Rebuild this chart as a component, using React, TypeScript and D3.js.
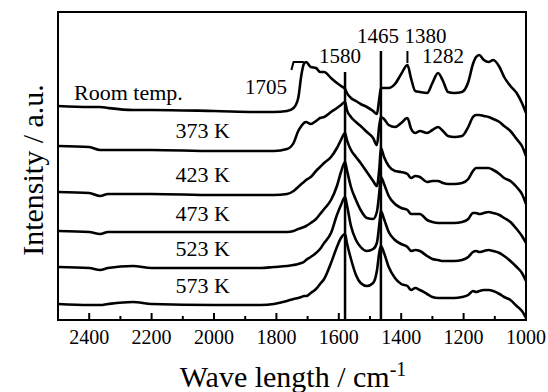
import React from "react";
import * as d3 from "d3";

// Wavenumber grid (cm-1)
const wavenumber = [2500, 2400, 2365, 2340, 2260, 2200, 2000, 1850, 1808, 1766, 1745, 1730, 1720, 1712, 1705, 1690, 1673, 1660, 1647, 1625, 1606, 1593, 1580, 1574, 1561, 1545, 1530, 1510, 1490, 1478, 1470, 1465, 1455, 1440, 1420, 1400, 1380, 1368, 1355, 1340, 1317, 1300, 1282, 1266, 1250, 1230, 1205, 1185, 1170, 1160, 1150, 1135, 1120, 1105, 1085, 1070, 1050, 1030, 1013, 1000];

// Offset intensities (a.u.)
const roomTemp = [214, 213, 213, 212, 210, 210, 209, 208, 208, 209, 212, 222, 245, 256, 258, 253, 252, 248, 248, 242, 237, 234, 231, 227, 222, 219, 216, 213, 209, 206, 222, 232, 232, 232, 236, 246, 255, 241, 229, 228, 227, 237, 247, 239, 228, 227, 228, 238, 256, 263, 265, 260, 258, 260, 253, 243, 234, 227, 217, 207];
const k373 = [174, 173, 170, 170, 170, 170, 169, 169, 169, 171, 177, 189, 194, 197, 198, 196, 199, 202, 203, 208, 212, 215, 218, 210, 203, 198, 194, 188, 182, 175, 195, 203, 201, 195, 193, 197, 202, 191, 187, 189, 187, 190, 193, 189, 184, 183, 184, 193, 203, 205, 205, 204, 203, 201, 198, 194, 189, 181, 174, 164];
const k423 = [128, 127, 124, 126, 126, 126, 125, 125, 125, 126, 129, 133, 136, 138, 140, 143, 149, 153, 157, 163, 172, 180, 187, 180, 170, 163, 157, 148, 139, 134, 152, 172, 163, 154, 149, 148, 146, 142, 144, 143, 138, 139, 139, 137, 136, 136, 137, 141, 149, 152, 152, 152, 152, 150, 146, 142, 139, 133, 126, 116];
const k473 = [89, 88, 86, 88, 88, 88, 88, 88, 88, 88, 89, 91, 92, 93, 94, 97, 101, 106, 111, 120, 134, 148, 158, 150, 133, 120, 110, 102, 101, 108, 128, 143, 136, 124, 116, 112, 110, 106, 106, 106, 100, 98, 97, 97, 97, 97, 98, 101, 107, 107, 106, 107, 108, 107, 105, 102, 98, 91, 84, 77];
const k523 = [53, 52, 50, 52, 54, 52, 52, 52, 53, 54, 55, 56, 57, 58, 60, 63, 67, 71, 77, 87, 105, 115, 123, 115, 94, 80, 73, 69, 71, 77, 96, 109, 101, 88, 80, 76, 73, 69, 70, 69, 64, 61, 60, 59, 59, 59, 60, 63, 68, 69, 68, 69, 70, 69, 67, 64, 59, 53, 47, 39];
const k573 = [16, 15, 15, 16, 18, 16, 15, 15, 16, 19, 21, 22, 23, 24, 24, 27, 31, 36, 41, 57, 73, 82, 86, 77, 61, 45, 37, 34, 37, 49, 68, 74, 67, 53, 42, 36, 34, 30, 32, 30, 26, 23, 22, 22, 22, 22, 23, 25, 29, 28, 29, 30, 30, 29, 26, 23, 20, 14, 9, 2];

const seriesValues = [roomTemp, k373, k423, k473, k523, k573];
const seriesLabels = ["Room temp.", "373 K", "423 K", "473 K", "523 K", "573 K"];
const majorTicks = [2400, 2200, 2000, 1800, 1600, 1400, 1200, 1000];
const minorTicks = [2300, 2100, 1900, 1700, 1500, 1300, 1100];

const W = 548, H = 392;
const L = 58, R = 526, T = 12, B = 320;
const FONT = "'Liberation Serif', 'Times New Roman', serif";

export default function App() {
  const x = d3.scaleLinear().domain([2500, 1000]).range([L, R]);
  const y = d3.scaleLinear().domain([0, 308]).range([B, T]);
  const line = d3
    .line<number>()
    .x((_, i) => x(wavenumber[i]))
    .y((v) => y(v))
    .curve(d3.curveMonotoneX);

  const labelPos = [
    { x: 74, y: 100, anchor: "start" },
    { x: 230, y: 138, anchor: "end" },
    { x: 230, y: 182, anchor: "end" },
    { x: 230, y: 221, anchor: "end" },
    { x: 230, y: 256, anchor: "end" },
    { x: 230, y: 293, anchor: "end" },
  ];

  return (
    <svg width={W} height={H} style={{ position: "absolute", left: 0, top: 0, background: "#fff" }} fontFamily={FONT}>
      <rect x={0} y={0} width={W} height={H} fill="#fff" />
      {/* annotation lines */}
      <line x1={x(1580)} x2={x(1580)} y1={y(248)} y2={B} stroke="#000" strokeWidth={2.5} />
      <line x1={x(1465)} x2={x(1465)} y1={y(269)} y2={B} stroke="#000" strokeWidth={2.5} />
      <line x1={x(1380)} x2={x(1380)} y1={y(269)} y2={y(257)} stroke="#000" strokeWidth={2} />
      {/* curves */}
      {seriesValues.map((vals, i) => (
        <path key={i} d={line(vals) || ""} fill="none" stroke="#000" strokeWidth={2.6} strokeLinejoin="round" />
      ))}
      {/* arrow near 1705 */}
      <path d={`M${x(1712)},${y(258)} L${x(1745)},${y(258)} L${x(1752)},${y(250)}`} fill="none" stroke="#000" strokeWidth={2} />
      {/* frame */}
      <rect x={L} y={T} width={R - L} height={B - T} fill="none" stroke="#000" strokeWidth={2} />
      {/* ticks */}
      {majorTicks.map((t) => (
        <line key={"M" + t} x1={x(t)} x2={x(t)} y1={B} y2={B - 7} stroke="#000" strokeWidth={2} />
      ))}
      {minorTicks.map((t) => (
        <line key={"m" + t} x1={x(t)} x2={x(t)} y1={B} y2={B - 4} stroke="#000" strokeWidth={2} />
      ))}
      {majorTicks.map((t) => (
        <text key={"t" + t} x={x(t)} y={344} fontSize={20} textAnchor="middle">{t}</text>
      ))}
      {/* series labels */}
      {seriesLabels.map((s, i) => (
        <text key={s} x={labelPos[i].x} y={labelPos[i].y} fontSize={22} textAnchor={labelPos[i].anchor as any}>{s}</text>
      ))}
      {/* peak labels */}
      <text x={x(1705) - 19} y={94} fontSize={21} textAnchor="end">1705</text>
      <text x={x(1580) - 5} y={63} fontSize={21} textAnchor="middle">1580</text>
      <text x={x(1465) - 3} y={43} fontSize={21} textAnchor="middle">1465</text>
      <text x={x(1380) + 18} y={43} fontSize={21} textAnchor="middle">1380</text>
      <text x={x(1282) + 5} y={63} fontSize={21} textAnchor="middle">1282</text>
      {/* axis titles */}
      <text x={(L + R) / 2 + 1} y={387} fontSize={30} textAnchor="middle">
        Wave length / cm<tspan dy={-11} fontSize={20}>-1</tspan>
      </text>
      <text transform={`translate(43,${(T + B) / 2 + 4}) rotate(-90)`} fontSize={30} textAnchor="middle">Intensity / a.u.</text>
    </svg>
  );
}
